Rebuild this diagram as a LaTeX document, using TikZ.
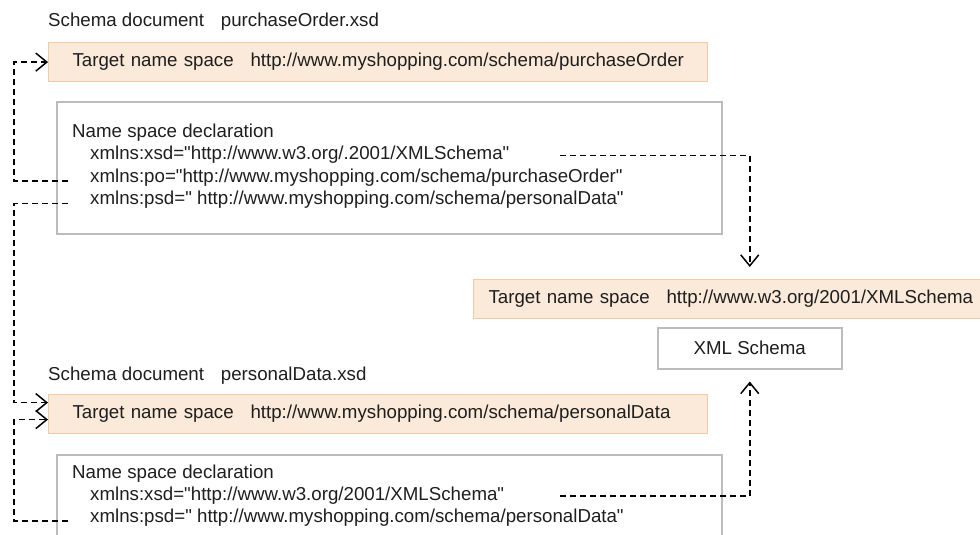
\documentclass[tikz,border=0pt]{standalone}
\usepackage{fontspec}
\setmainfont{Liberation Sans}[Ligatures=TeXOff]
\usetikzlibrary{arrows.meta, positioning, calc}

\definecolor{tnsfill}{RGB}{251,233,217}
\definecolor{tnsline}{RGB}{239,203,166}
\definecolor{framegray}{RGB}{188,188,188}
\definecolor{inkgray}{RGB}{30,30,30}

\begin{document}
\begin{tikzpicture}[
    x=1pt, y=-1pt,
    font=\fontsize{18.7}{22.5}\selectfont,
    text=inkgray,
    >={Straight Barb[length=11pt,width=18pt,line width=1.5pt]},
    % Target name space bar
    tnsbar/.style={
        rectangle, draw=tnsline, fill=tnsfill, line width=1.2pt,
        anchor=north west, minimum height=39pt, inner xsep=24pt, inner ysep=0pt,
        text width=#1, align=left
    },
    % Name space declaration frame
    declframe/.style={
        rectangle, draw=framegray, line width=1.5pt,
        anchor=north west, minimum width=665pt
    },
    % XML Schema box
    schemabox/.style={
        rectangle, draw=framegray, line width=1.5pt,
        anchor=north west, minimum width=184pt, minimum height=41pt
    },
    % Plain text lines
    txtline/.style={anchor=base west, inner sep=0pt},
    % Dashed reference line
    link/.style={->, dashed, dash pattern=on 6pt off 4pt, line width=1.5pt, draw=black}
]
    \clip (0,0) rectangle (980,535);

    % =========================================================================
    % Schema document purchaseOrder.xsd
    % =========================================================================
    \node[txtline] (docA) at (48,27) {Schema document\hspace{0.9em}purchaseOrder.xsd};

    \node[tnsbar=611pt] (tnsA) at (48,42)
        {Target name space\hspace{0.9em}http://www.myshopping.com/schema/purchaseOrder};

    \node[declframe, minimum height=132pt] (declA) at (56,101) {};
    \node[txtline] (headA) at ([xshift=16pt, yshift=-36pt]declA.north west) {Name space declaration};
    \node[txtline] (xsdA) at ([xshift=18pt, yshift=-22.5pt]headA.base west)
        {xmlns:xsd="http://www.w3.org/.2001/XMLSchema"};
    \node[txtline] (poA) at ([yshift=-22.5pt]xsdA.base west)
        {xmlns:po="http://www.myshopping.com/schema/purchaseOrder"};
    \node[txtline] (psdA) at ([yshift=-22.5pt]poA.base west)
        {xmlns:psd=" http://www.myshopping.com/schema/personalData"};

    % =========================================================================
    % XML Schema
    % =========================================================================
    \node[tnsbar=520pt, inner xsep=15pt] (tnsC) at (473,279)
        {Target name space\hspace{0.9em}http://www.w3.org/2001/XMLSchema};

    \node[schemabox] (schema) at (657,327) {XML Schema};

    % =========================================================================
    % Schema document personalData.xsd
    % =========================================================================
    \node[txtline] (docB) at (48,380) {Schema document\hspace{0.9em}personalData.xsd};

    \node[tnsbar=611pt] (tnsB) at (48,394)
        {Target name space\hspace{0.9em}http://www.myshopping.com/schema/personalData};

    \node[declframe, minimum height=100pt] (declB) at (56,454) {};
    \node[txtline] (headB) at ([xshift=16pt, yshift=-24pt]declB.north west) {Name space declaration};
    \node[txtline] (xsdB) at ([xshift=18pt, yshift=-22pt]headB.base west)
        {xmlns:xsd="http://www.w3.org/2001/XMLSchema"};
    \node[txtline] (psdB) at ([yshift=-22pt]xsdB.base west)
        {xmlns:psd=" http://www.myshopping.com/schema/personalData"};

    % =========================================================================
    % References to target name spaces
    % =========================================================================
    \draw[link] ([xshift=-22pt, yshift=1pt]poA.base west) -| ([xshift=-34pt]tnsA.west) -- (tnsA.west);

    \draw[link] ([xshift=-22pt, yshift=1pt]psdA.base west) -| ([xshift=-34pt, yshift=11.5pt]tnsB.west)
        -- ([yshift=11.5pt]tnsB.west);

    \draw[link] ([xshift=-22pt, yshift=1pt]psdB.base west) -| ([xshift=-34pt, yshift=-5.5pt]tnsB.west)
        -- ([yshift=-5.5pt]tnsB.west);

    \draw[link, shorten >=12pt] ([xshift=470pt, yshift=4pt]xsdA.base west) -| (tnsC.north -| schema.north);

    \draw[link, shorten >=12pt] ([xshift=470pt, yshift=4pt]xsdB.base west) -| (schema.south);

\end{tikzpicture}
\end{document}
